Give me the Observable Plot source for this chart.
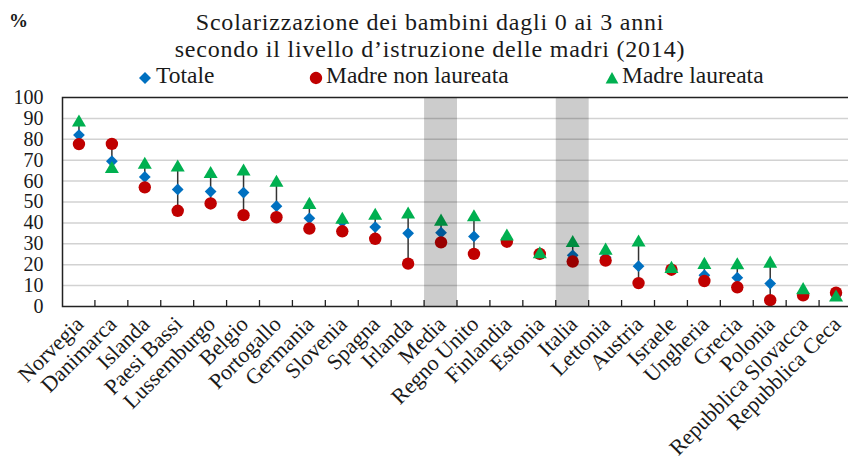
<!DOCTYPE html>
<html><head><meta charset="utf-8">
<script src="https://cdn.jsdelivr.net/npm/d3@7"></script>
<script src="https://cdn.jsdelivr.net/npm/@observablehq/plot@0.6"></script>
<style>
html,body{margin:0;padding:0;background:#fff}
#wrap{position:relative;width:848px;height:462px;overflow:hidden;font-family:"Liberation Serif","Times New Roman",serif;color:#1a1a1a}
#pct{position:absolute;left:9px;top:10px;font-size:19px;font-weight:bold;line-height:22px}
.tl{position:absolute;left:0;width:860px;text-align:center;font-size:24px;line-height:27px;letter-spacing:0.8px;white-space:nowrap}
.lg-sym{position:absolute}
.lg-txt{position:absolute;font-size:23.5px;line-height:26px;white-space:nowrap}
#chart{position:absolute;left:0;top:88px}
</style></head><body>
<div id="wrap">
  <div id="pct">%</div>
  <div id="title"></div>
  <div id="legend"></div>
  <div id="chart"></div>
</div>
<script>
// ---- data ----
const titleLines = ["Scolarizzazione dei bambini dagli 0 ai 3 anni", "secondo il livello d’istruzione delle madri (2014)"];
const seriesNames = ["Totale", "Madre non laureata", "Madre laureata"];
const seriesColors = ["#0070c0", "#c00000", "#00b050"];
const seriesSymbols = ["diamond2", "circle", "triangle"];
const categories = ["Norvegia","Danimarca","Islanda","Paesi Bassi","Lussemburgo","Belgio","Portogallo","Germania","Slovenia","Spagna","Irlanda","Media","Regno Unito","Finlandia","Estonia","Italia","Lettonia","Austria","Israele","Ungheria","Grecia","Polonia","Repubblica Slovacca","Repubblica Ceca"];
const totale      = [82, 69.5, 62, 56, 55, 54.5, 48, 42.2, 40.5, 38, 35, 35.3, 33.5, 32, 25, 24.5, 23.5, 19.3, 18, 15, 13.8, 11, 6, 5.5];
const nonLaureata = [77.7, 77.8, 57, 45.8, 49.3, 43.7, 42.7, 37.3, 36, 32.4, 20.5, 30.7, 25.2, 31, 25.2, 21.5, 22, 11.2, 17.6, 12.2, 9.2, 3, 5.3, 6.6];
const laureata    = [88, 65.8, 67.8, 66.5, 63.4, 64.6, 59.2, 48.6, 41.5, 43.4, 44, 40.6, 42.7, 33.5, 25, 30.4, 26.7, 30.6, 18, 19.9, 19.7, 20.5, 7.8, 4.3];
const highlighted = ["Media", "Italia"];
const yTicks = [0,10,20,30,40,50,60,70,80,90,100];

// ---- title & legend ----
const titleEl = document.getElementById("title");
titleLines.forEach((line, i) => {
  const d = document.createElement("div");
  d.className = "tl"; d.textContent = line; d.style.top = (9 + i * 27) + "px";
  titleEl.appendChild(d);
});
const legendSymX = [145, 316, 612];
const legendTxtX = [156, 326, 622];
const legend = document.getElementById("legend");
const symPaths = {
  diamond2: "M7,1 L13,7 L7,13 L1,7 Z",
  circle: "M7,0.8 A6.2,6.2 0 1 1 6.99,0.8 Z",
  triangle: "M7,1 L13.4,12.4 L0.6,12.4 Z"
};
seriesNames.forEach((name, i) => {
  const s = document.createElementNS("http://www.w3.org/2000/svg", "svg");
  s.setAttribute("width", 14); s.setAttribute("height", 14);
  s.setAttribute("class", "lg-sym");
  s.style.left = (legendSymX[i] - 7) + "px"; s.style.top = (78 - 7) + "px";
  const p = document.createElementNS("http://www.w3.org/2000/svg", "path");
  p.setAttribute("d", symPaths[seriesSymbols[i]]); p.setAttribute("fill", seriesColors[i]);
  s.appendChild(p); legend.appendChild(s);
  const t = document.createElement("div");
  t.className = "lg-txt"; t.textContent = name;
  t.style.left = legendTxtX[i] + "px"; t.style.top = "62px";
  legend.appendChild(t);
});

// ---- chart ----
const rows = categories.map((c, i) => ({cat: c, tot: totale[i], non: nonLaureata[i], lau: laureata[i]}));

function boundaryTicks(index, scales, values, dimensions) {
  const g = d3.create("svg:g");
  const x = scales.x;
  const y0 = dimensions.height - dimensions.marginBottom;
  categories.slice(1).forEach(c => {
    const px = x(c);
    g.append("line").attr("x1", px).attr("x2", px).attr("y1", y0).attr("y2", y0 - 6)
      .attr("stroke", "#222").attr("stroke-width", 1.3);
  });
  return g.node();
}

const chart = Plot.plot({
  width: 848, height: 374,
  marginLeft: 62, marginRight: -4, marginTop: 9, marginBottom: 156,
  style: {fontFamily: '"Liberation Serif", serif', fontSize: "20px", color: "#1a1a1a", background: "transparent", overflow: "visible"},
  x: {domain: categories, padding: 0, round: false, axis: null},
  y: {domain: [0, 100], ticks: yTicks, tickSize: 0, tickPadding: 19, label: null},
  marks: [
    Plot.ruleY(yTicks.filter(v => v > 0 && v < 100), {stroke: "#d2d2d2", strokeWidth: 1.5}),
    Plot.ruleX(rows, {x: "cat", y1: d => Math.min(d.tot, d.non, d.lau), y2: d => Math.max(d.tot, d.non, d.lau), stroke: "#333", strokeWidth: 1.5}),
    Plot.dot(rows, {x: "cat", y: "tot", symbol: seriesSymbols[0], r: 5.3, fill: seriesColors[0]}),
    Plot.dot(rows, {x: "cat", y: "non", symbol: seriesSymbols[1], r: 6.2, fill: seriesColors[1]}),
    Plot.dot(rows, {x: "cat", y: "lau", symbol: seriesSymbols[2], r: 5.2, fill: seriesColors[2]}),
    boundaryTicks,
    Plot.barY(highlighted, {x: d => d, y1: () => 0, y2: () => 100, fill: "#000", fillOpacity: 0.2}),
    Plot.frame({stroke: "#222", strokeWidth: 1.5}),
    Plot.text(categories, {x: d => d, frameAnchor: "bottom", rotate: -45, textAnchor: "end", dx: 6, dy: 19, fontSize: 22, fill: "#1a1a1a"})
  ]
});
document.getElementById("chart").appendChild(chart);
</script>
</body></html>
